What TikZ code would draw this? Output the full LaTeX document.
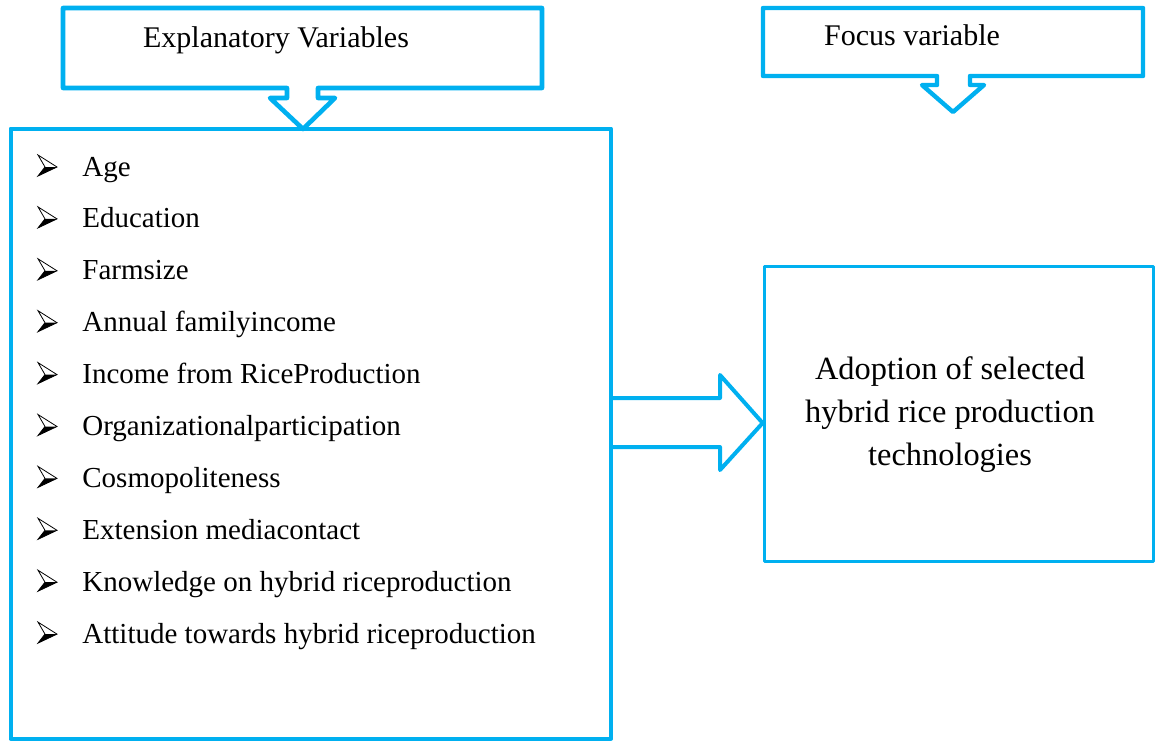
\documentclass[tikz,border=0pt]{standalone}
\usepackage{fontspec}
\setmainfont{Liberation Serif}
\usepackage{tikz}
\definecolor{boxblue}{RGB}{0,176,240}

\begin{document}
\begin{tikzpicture}[x=0.5pt,y=-0.5pt,
  frame/.style={draw=boxblue,line width=2pt,line join=round},
  item/.style={anchor=base west,inner sep=0pt,font=\fontsize{14.5}{17}\selectfont}]
  \useasboundingbox (0,0) rectangle (1156,740);
  % heading boxes with their down arrows
  \draw[frame,line width=2.3pt] (63,8)--(542,8)--(542,88)--(318,88)--(318,98)--(335,98)--(303,129)
    --(270,98)--(287,98)--(287,88)--(63,88)--cycle;
  \draw[frame,line width=2.2pt] (763,8)--(1143,8)--(1143,76)--(970,76)--(970,85)--(984,85)--(953,112)
    --(922,85)--(937,85)--(937,76)--(763,76)--cycle;
  \node[anchor=base,inner sep=0pt,font=\fontsize{15}{17}\selectfont] (explvar) at (276,47) {Explanatory Variables};
  \node[anchor=base,inner sep=0pt,font=\fontsize{15}{17}\selectfont] (focusvar) at (912,45) {Focus variable};
  % the two boxes
  \node[frame,minimum width=300.25pt,minimum height=305pt] (varbox) at (310.75,433.5) {};
  \node[frame,line width=1.6pt,minimum width=194.5pt,minimum height=147.5pt] (adoptbox) at (958.75,414) {};
  \node[align=center,inner sep=0pt,font=\fontsize{16.2}{21.5}\selectfont] (adopt) at (950,415)
    {Adoption of selected\\hybrid rice production\\technologies};
  % variables, each with an arrowhead bullet
  \foreach \txt [count=\i] in {Age,Education,Farmsize,Annual familyincome,Income from RiceProduction,
    Organizationalparticipation,Cosmopoliteness,Extension mediacontact,
    Knowledge on hybrid riceproduction,Attitude towards hybrid riceproduction}{
    \coordinate (b\i) at (38,{176+51.9*(\i-1)});
    \draw[line width=0.4pt,line join=miter,shift={(b\i)}] (0,-21)--(19,-9)--(0,0)--(7,-9)--cycle;
    \fill[shift={(b\i)}] (7,-9)--(19,-9)--(0,0)--cycle;
    \node[item] (v\i) at (82,{176+51.9*(\i-1)}) {\txt};
  }
  % block arrow
  \draw[frame,line width=2pt] (varbox.east |- 0,398)--(720,398)--(720,375)--(adoptbox.west |- 0,423)
    --(720,470)--(720,447)--(varbox.east |- 0,447);
\end{tikzpicture}
\end{document}
